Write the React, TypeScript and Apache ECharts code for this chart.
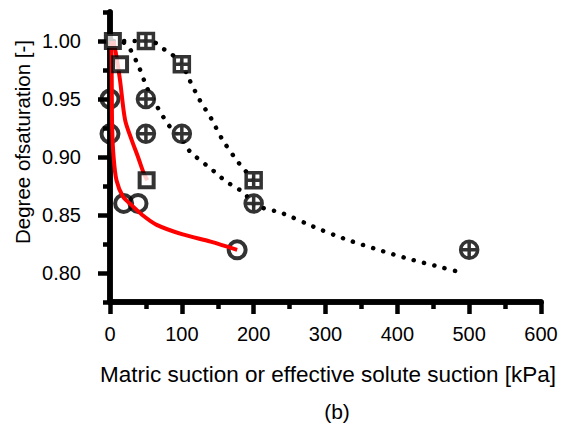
import React, { useEffect, useRef } from "react";
import * as echarts from "echarts";

// Tick values
const xTicks = [0, 100, 200, 300, 400, 500, 600];
const xMinorTicks = [50, 150, 250, 350, 450, 550];
const yMajorTicks = [0.8, 0.85, 0.9, 0.95, 1.0];
const yMinorTicks = [0.775, 0.825, 0.875, 0.925, 0.975, 1.025];

// Markers [suction kPa, degree of saturation]
const openSquares: [number, number][] = [[4, 1.0], [14, 0.98], [51, 0.88]];
const plusSquares: [number, number][] = [[50, 1.0], [100, 0.98], [200, 0.88]];
const openCircles: [number, number][] = [[0, 0.95], [0, 0.92], [19, 0.86], [39, 0.86], [177, 0.82]];
const plusCircles: [number, number][] = [[50, 0.95], [50, 0.92], [100, 0.92], [200, 0.86], [500, 0.82]];

// Red solid curves
const redCurveA: [number, number][] = [
  [2, 1.0], [2.5, 0.96], [3, 0.925], [5, 0.9], [9, 0.88], [18, 0.866], [30, 0.8585],
  [45, 0.85], [65, 0.8415], [100, 0.8335], [140, 0.827], [177, 0.82],
];
const redCurveB: [number, number][] = [
  [5, 1.0], [9.7, 0.984], [14, 0.966], [21, 0.932], [30, 0.915], [39, 0.9], [47, 0.886], [52, 0.88],
];

// Black dotted curves
const dottedUpper: [number, number][] = [
  [5, 1.0], [17, 1.0], [29, 1.0], [50, 1.0], [63, 0.9985], [75, 0.993], [87, 0.988], [100, 0.98],
  [111, 0.966], [125, 0.949], [141, 0.933], [156, 0.9155], [173, 0.9], [183, 0.892], [200, 0.88],
];
const dottedLower: [number, number][] = [
  [5, 1.0], [18, 0.999], [27, 0.994], [41, 0.9765], [52, 0.959], [67, 0.942], [83.5, 0.926],
  [100, 0.9155], [111, 0.905], [135, 0.8925], [148, 0.886], [160, 0.8796], [173, 0.8744],
  [187, 0.869], [200, 0.859], [240, 0.8515], [283, 0.84], [326, 0.8296], [370, 0.8207],
  [413, 0.8127], [458, 0.8054], [488, 0.8006],
];

const FONT = "'Liberation Sans', Arial, Helvetica, sans-serif";

export default function App() {
  const ref = useRef<HTMLDivElement>(null);
  useEffect(() => {
    if (!ref.current) return;
    const chart = echarts.init(ref.current, null, { renderer: "svg" });
    const black = "#000000";
    const W = 5.5;
    const TW = 4.5;
    const MW = 4;
    const dotStyle = { color: black, width: 4.5, type: [0.1, 10.5], cap: "round" as const };
    const redStyle = { color: "#ff0000", width: 4 };
    const axisLine = { show: true, onZero: false, lineStyle: { color: black, width: W } };
    chart.setOption({
      animation: false,
      grid: { left: 110, right: 20, top: 12, bottom: 126, containLabel: false },
      xAxis: [
        {
          type: "value",
          min: xTicks[0],
          max: xTicks[xTicks.length - 1],
          interval: 100,
          axisLine,
          axisTick: { show: true, length: 12, lineStyle: { color: black, width: TW } },
          splitLine: { show: false },
          axisLabel: { color: black, fontSize: 20, fontFamily: FONT, margin: 22 },
        },
        {
          type: "value",
          position: "bottom",
          min: xTicks[0],
          max: xTicks[xTicks.length - 1],
          axisLine,
          axisTick: { show: true, length: 7, customValues: xMinorTicks, lineStyle: { color: black, width: TW } },
          axisLabel: { show: false },
          splitLine: { show: false },
        },
      ],
      yAxis: [
        {
          type: "value",
          min: 0.775,
          max: 1.025,
          position: "left",
          axisLine,
          axisTick: { show: true, length: 12, customValues: yMajorTicks, lineStyle: { color: black, width: TW } },
          axisLabel: {
            color: black, fontSize: 20, fontFamily: FONT, margin: 29,
            customValues: yMajorTicks,
            formatter: (v: number) => v.toFixed(2),
          },
          splitLine: { show: false },
        },
        {
          type: "value",
          min: 0.775,
          max: 1.025,
          position: "left",
          axisLine,
          axisTick: { show: true, length: 7, customValues: yMinorTicks, lineStyle: { color: black, width: TW } },
          axisLabel: { show: false },
          splitLine: { show: false },
        },
      ],
      graphic: [
        {
          type: "text", x: 22, y: 142, rotation: Math.PI / 2,
          style: { text: "Degree ofsaturation [-]", fill: black, font: `20.5px ${FONT}`, align: "center", verticalAlign: "middle" },
        },
        {
          type: "text", x: 328, y: 374,
          style: { text: "Matric suction or effective solute suction [kPa]", fill: black, font: `22.5px ${FONT}`, align: "center", verticalAlign: "middle" },
        },
        {
          type: "text", x: 337, y: 411,
          style: { text: "(b)", fill: black, font: `21px ${FONT}`, align: "center", verticalAlign: "middle" },
        },
      ],
      series: [
        { type: "line", data: dottedUpper, smooth: 0.3, showSymbol: false, symbol: "none", lineStyle: dotStyle, z: 2 },
        { type: "line", data: dottedLower, smooth: 0.3, showSymbol: false, symbol: "none", lineStyle: dotStyle, z: 2 },
        {
          type: "scatter", data: openCircles, symbol: "path://M0,5A5,5,0,1,1,10,5A5,5,0,1,1,0,5Z", symbolSize: 17, z: 3,
          itemStyle: { color: "none", borderColor: black, borderWidth: MW },
        },
        { type: "line", data: redCurveA, smooth: 0.3, showSymbol: false, symbol: "none", lineStyle: redStyle, z: 4 },
        { type: "line", data: redCurveB, smooth: 0.3, showSymbol: false, symbol: "none", lineStyle: redStyle, z: 4 },
        {
          type: "scatter", data: openSquares, symbol: "rect", symbolSize: 14, z: 5,
          itemStyle: { color: "#ffffff", borderColor: black, borderWidth: MW },
        },
        {
          type: "scatter", data: plusSquares, symbol: "path://M0,0H10V10H0Z M5,0V10 M0,5H10", symbolSize: 15, z: 5,
          itemStyle: { color: "#ffffff", borderColor: black, borderWidth: 3.5 },
        },
        {
          type: "scatter", data: plusCircles,
          symbol: "path://M0,5A5,5,0,1,1,10,5A5,5,0,1,1,0,5Z M5,0V10 M0,5H10", symbolSize: 17, z: 5,
          itemStyle: { color: "#ffffff", borderColor: black, borderWidth: 3.5 },
        },
      ],
    });
    return () => chart.dispose();
  }, []);
  return <div ref={ref} style={{ width: 561, height: 428, position: "absolute", left: 0, top: 0 }} />;
}
